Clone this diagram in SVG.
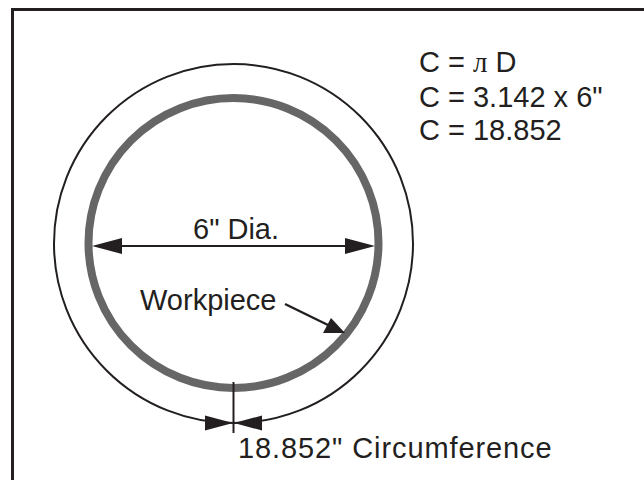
<svg xmlns="http://www.w3.org/2000/svg" width="644" height="480" viewBox="0 0 644 480">
<style>
.t{font-family:"Liberation Sans",Arial,sans-serif;font-size:29px;fill:#231f20}
.ln{stroke:#231f20;fill:none}
.ah{fill:#231f20}
</style>
<rect x="0" y="0" width="644" height="480" fill="#fff"/>
<g id="frame"><path d="M12.5,480 V9.5 H644" class="ln" stroke-width="3"/></g>
<g id="dimension-circle"><circle cx="233.5" cy="243.5" r="179.5" class="ln" stroke-width="2"/></g>
<g id="workpiece"><circle cx="233.5" cy="243" r="145" fill="none" stroke="#666" stroke-width="8"/></g>
<g id="connectors">
<line x1="120" y1="246" x2="347" y2="246" class="ln" stroke-width="2.2"/>
<path class="ah" d="M92,246 L122,238 L122,254 Z"/>
<path class="ah" d="M375,246 L345,238 L345,254 Z"/>
<line x1="285" y1="304" x2="330" y2="326" class="ln" stroke-width="2.5"/>
<path class="ah" d="M345,333 L323,333 L331,318 Z"/>
<line x1="233.5" y1="382" x2="233.5" y2="433" class="ln" stroke-width="2"/>
<path class="ah" d="M233,423 L205,415.5 L205,430.5 Z"/>
<path class="ah" d="M234,423 L262,415.5 L262,430.5 Z"/>
</g>
<g id="labels">
<text class="t" x="193" y="239">6" Dia.</text>
<text class="t" x="140" y="310">Workpiece</text>
<text class="t" x="238" y="458" letter-spacing="0.9">18.852" Circumference</text>
<text class="t" x="419" y="72">C = <tspan font-family="Liberation Serif,serif">л</tspan> D</text>
<text class="t" x="419" y="107">C = 3.142 x 6"</text>
<text class="t" x="419" y="140">C = 18.852</text>
</g>
</svg>
